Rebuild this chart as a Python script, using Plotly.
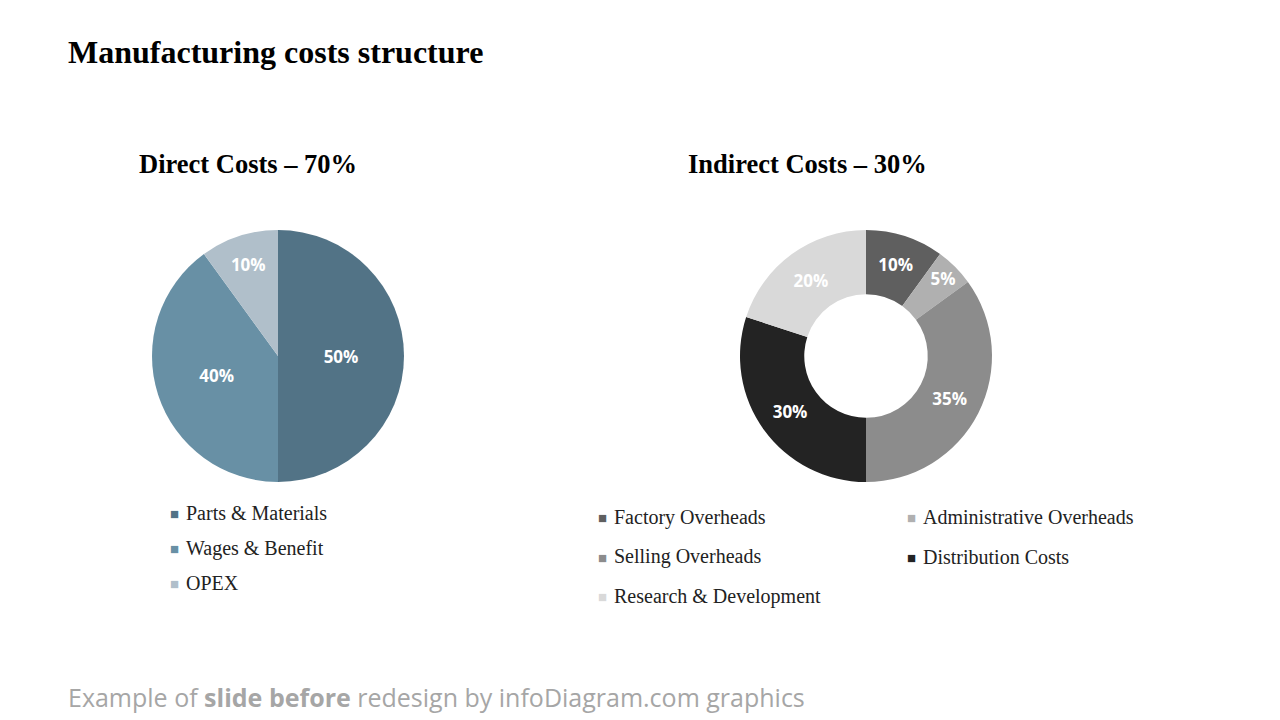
import plotly.graph_objects as go

direct_labels = ["Parts & Materials", "Wages & Benefit", "OPEX"]
direct_values = [50, 40, 10]
direct_colors = ["#527386", "#6890a5", "#b0bfca"]

indirect_labels = ["Factory Overheads", "Administrative Overheads", "Selling Overheads",
                   "Distribution Costs", "Research & Development"]
indirect_values = [10, 5, 35, 30, 20]
indirect_colors = ["#5f5f5f", "#b0b0b0", "#8c8c8c", "#232323", "#d9d9d9"]

W, H = 1280, 720
# the page puts the plot ~8px right/down, compensate
DX, DY = 8, 8
serif = "Liberation Serif, Times New Roman, serif"


def px(x):
    return (x - DX) / W


def py(y):
    return 1 - (y - DY) / H


fig = go.Figure()

fig.add_trace(go.Pie(
    labels=direct_labels, values=direct_values, sort=False, direction="clockwise",
    rotation=0, marker=dict(colors=direct_colors), showlegend=False,
    textinfo="percent", textposition="inside", insidetextorientation="horizontal",
    textfont=dict(color="white", size=17, family="Open Sans", weight="bold"),
    domain=dict(x=[px(152), px(404)], y=[py(482), py(230)]),
    hoverinfo="label+percent",
))

fig.add_trace(go.Pie(
    labels=indirect_labels, values=indirect_values, sort=False, direction="clockwise",
    rotation=0, hole=0.49, marker=dict(colors=indirect_colors), showlegend=False,
    textinfo="percent", textposition="inside", insidetextorientation="horizontal",
    textfont=dict(color="white", size=17, family="Open Sans", weight="bold"),
    domain=dict(x=[px(740), px(992)], y=[py(482), py(230)]),
    hoverinfo="label+percent",
))

annotations = [
    dict(text="<b>Manufacturing costs structure</b>", x=px(66), y=py(52),
         xanchor="left", font=dict(family=serif, size=32, color="black")),
    dict(text="<b>Direct Costs – 70%</b>", x=px(248), y=py(164),
         xanchor="center", font=dict(family=serif, size=26.5, color="black")),
    dict(text="<b>Indirect Costs – 30%</b>", x=px(807), y=py(164),
         xanchor="center", font=dict(family=serif, size=26.5, color="black")),
    dict(text="Example of <b>slide before</b> redesign by infoDiagram.com graphics",
         x=px(66), y=py(697), xanchor="left",
         font=dict(family="Open Sans", size=25, color="#a6a6a6")),
]

# legend entries: direct costs in one column
for i, (lab, col) in enumerate(zip(direct_labels, direct_colors)):
    y = 513 + i * 35
    annotations.append(dict(text="■", x=px(174), y=py(y), xanchor="center",
                            font=dict(size=15, color=col)))
    annotations.append(dict(text=lab, x=px(184), y=py(y), xanchor="left",
                            font=dict(family=serif, size=20, color="#222")))

# indirect costs in two columns
for i, (lab, col) in enumerate(zip(indirect_labels, indirect_colors)):
    y = 517 + (i // 2) * 39.5
    x0 = 602 + (i % 2) * 309
    annotations.append(dict(text="■", x=px(x0), y=py(y), xanchor="center",
                            font=dict(size=15, color=col)))
    annotations.append(dict(text=lab, x=px(x0 + 10), y=py(y), xanchor="left",
                            font=dict(family=serif, size=20, color="#222")))

for a in annotations:
    a.update(xref="paper", yref="paper", yanchor="middle", showarrow=False)

fig.update_layout(
    width=W, height=H,
    paper_bgcolor="white", plot_bgcolor="white",
    margin=dict(l=0, r=0, t=0, b=0),
    showlegend=False,
    annotations=annotations,
)

fig.write_html("out.html")
